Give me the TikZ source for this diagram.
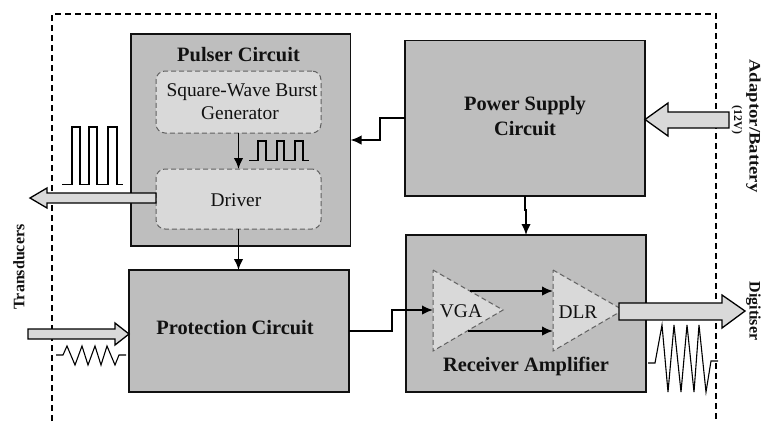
\documentclass[tikz,border=0pt]{standalone}
\usepackage{fontspec}
\setmainfont{Liberation Serif}
\usetikzlibrary{arrows.meta}
\definecolor{boxgray}{HTML}{BEBEBE}
\definecolor{innergray}{HTML}{D9D9D9}
\definecolor{dashgray}{HTML}{606060}
\definecolor{inkc}{HTML}{111111}
\tikzset{
  every node/.style={text=inkc,inner sep=0pt,outer sep=0pt},
  block/.style={draw=inkc,fill=boxgray,line width=1.3pt,anchor=north west},
  inner block/.style={draw=dashgray,fill=innergray,line width=1pt,dash pattern=on 5pt off 3pt,rounded corners=9pt,anchor=north west},
  frameline/.style={draw=black,line width=1.2pt,dash pattern=on 6pt off 4pt},
  amptri/.style={draw=dashgray,fill=innergray,line width=1pt,dash pattern=on 5pt off 3pt},
  wire/.style={draw=black,line width=1.9pt,-{Latex[length=11pt,width=9.5pt]}},
  bigarrow/.style={draw=black,fill=innergray,line width=1.3pt,miter limit=10},
  wave/.style={draw=black,line width=1.1pt,line join=miter},
  titlefont/.style={font=\fontsize{20.4}{24}\selectfont\bfseries,align=center},
  plainfont/.style={font=\fontsize{19.4}{22}\selectfont,align=center},
  sidefont/.style={font=\fontsize{16}{18}\selectfont\bfseries},
}
\begin{document}
\begin{tikzpicture}[x=1pt,y=-1pt]
\useasboundingbox (0,0) rectangle (762,421);
\draw[frameline] (52,421) -- (52,14) -- (716,14) -- (716,421);

% blocks
\node[block,minimum width=219.5pt,minimum height=212pt] (pulser) at (131,34) {};
\node[block,minimum width=240pt,minimum height=155.5pt] (power) at (405,40.5) {};
\node[block,minimum width=220pt,minimum height=122pt] (protection) at (129,270) {};
\node[block,minimum width=240pt,minimum height=157pt] (receiver) at (406,235) {};
\node[inner block,minimum width=165pt,minimum height=62pt] (burst) at (156,71) {};
\node[inner block,minimum width=165pt,minimum height=60pt] (driver) at (156,169) {};

% amplifiers
\coordinate (vgaIn) at (433,310);
\coordinate (dlrIn) at (553,310);
\coordinate (vgaUp) at (470,291);
\coordinate (vgaLo) at (468,331);
\draw[amptri] (433,270) -- (503,310) -- (433,351) -- cycle;
\draw[amptri] (553,270) -- (623,310) -- (553,351) -- cycle;

% labels
\node[titlefont] (tpulser) at (238.5,55) {Pulser Circuit};
\node[plainfont] (tburst1) at (242,92) {Square-Wave Burst};
\node[plainfont] (tburst2) at (240,113.5) {Generator};
\node[plainfont] (tdriver) at (236,200) {Driver};
\node[titlefont] (tpower1) at (525,106) {Power Supply};
\node[titlefont] (tpower2) at (525,129) {Circuit};
\node[titlefont] (tprot) at (235,328) {Protection Circuit};
\node[titlefont] (trecv) at (526,366) {Receiver Amplifier};
\node[plainfont] (tvga) at (461,311) {VGA};
\node[plainfont] (tdlr) at (578,312) {DLR};
\node[sidefont,rotate=90] (ttrans) at (19,267) {Transducers};
\node[sidefont,rotate=-90] (tadapt) at (753.5,126) {\scalebox{1.17}[1]{Adaptor/Battery}};
\node[rotate=-90,font=\fontsize{11.8}{13}\selectfont\bfseries] (tvolt) at (737,120) {(12V)};
\node[sidefont,rotate=-90] (tdigit) at (753.5,311) {Digitiser};

% connectors
\draw[wire] (burst.south -| tpulser.center) -- (tpulser.center |- driver.north);
\draw[wire] (driver.south -| tpulser.center) -- (tpulser.center |- protection.north);
\draw[wire] (power.west |- 0,118) -- (380,118) -- (380,140) -- (pulser.east |- 0,140);
\draw[wire] (power.south) -- ++(0,14) -| (receiver.north);
\draw[wire] (protection.east |- 0,331) -- (392,331) -- (392,310) -- (vgaIn);
\draw[wire] (vgaUp) -- (dlrIn |- vgaUp);
\draw[wire] (vgaLo) -- (dlrIn |- vgaLo);

% block arrows
\draw[bigarrow] (driver.west |- 0,193) -- (47,193) -- (47,188) -- (30,198) -- (47,208) -- (47,203) -- (driver.west |- 0,203) -- cycle;
\draw[bigarrow] (729,112) -- (668,112) -- (668,103) -- (power.east |- 0,119.5) -- (668,136) -- (668,128) -- (729,128) -- cycle;
\draw[bigarrow] (28,329) -- (115,329) -- (115,323) -- (protection.west |- 0,334) -- (115,345) -- (115,339) -- (28,339) -- cycle;
\draw[bigarrow] (619,303) -- (722,303) -- (722,295) -- (745,311) -- (722,328) -- (722,320) -- (619,320) -- cycle;

% waveforms
\draw[wave] (62,184.5) -- (72,184.5) -- (72,127) -- (80,127) -- (80,184.5) -- (89,184.5) -- (89,127) -- (97,127) -- (97,184.5) -- (108,184.5) -- (108,127) -- (117,127) -- (117,184.5) -- (123,184.5);
\draw[wave] (249,160.5) -- (258,160.5) -- (258,141) -- (266,141) -- (266,160.5) -- (277,160.5) -- (277,141) -- (284,141) -- (284,160.5) -- (295,160.5) -- (295,141) -- (303,141) -- (303,160.5) -- (309,160.5);
\draw[wave] (56,355) -- (63,355) -- (67,346) -- (75,365) -- (82,346) -- (88,365) -- (95,346) -- (101,365) -- (107,346) -- (115,365) -- (119,355) -- (126,355);
\draw[wave] (648,363) -- (655,363) -- (662,325) -- (668,392) -- (674,325) -- (681,392) -- (687,325) -- (694,392) -- (699,325) -- (706,392) -- (711,361) -- (718,361);
\end{tikzpicture}
\end{document}
